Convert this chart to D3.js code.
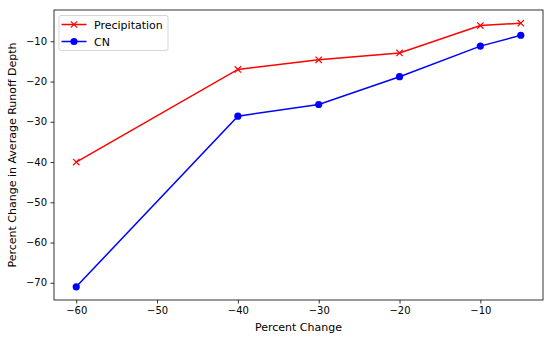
<!DOCTYPE html>
<html>
<head>
<meta charset="utf-8">
<script src="https://cdn.jsdelivr.net/npm/d3@7"></script>
<style>
  body { margin: 0; background: #fff; }
  text { font-family: "DejaVu Sans", sans-serif; }
</style>
</head>
<body>
<div id="chart"></div>
<script>
// data
const percentChange = [-60, -40, -30, -20, -10, -5];
const precipitation = [-40.0, -17.0, -14.6, -12.9, -6.1, -5.5];
const cn = [-71.0, -28.6, -25.7, -18.8, -11.2, -8.5];
const xTicks = [-60, -50, -40, -30, -20, -10];
const yTicks = [-70, -60, -50, -40, -30, -20, -10];

const width = 550;
const height = 340;
const margin = { top: 10, right: 7, bottom: 40, left: 54 };

const svg = d3
  .select("#chart")
  .append("svg")
  .attr("width", width)
  .attr("height", height);

// matplotlib style 5% padding
const xPad = (d3.max(percentChange) - d3.min(percentChange)) * 0.05;
const allY = precipitation.concat(cn);
const yPad = (d3.max(allY) - d3.min(allY)) * 0.05;

const x = d3
  .scaleLinear()
  .domain([d3.min(percentChange) - xPad, d3.max(percentChange) + xPad])
  .range([margin.left, width - margin.right]);

const y = d3
  .scaleLinear()
  .domain([d3.min(allY) - yPad, d3.max(allY) + yPad])
  .range([height - margin.bottom, margin.top]);

const fmt = (d) => String(d).replace("-", "\u2212");

// axes
const xAxis = svg
  .append("g")
  .attr("transform", `translate(0,${height - margin.bottom})`)
  .call(d3.axisBottom(x).tickValues(xTicks).tickFormat(fmt).tickSizeOuter(0).tickSize(3.5).tickPadding(3.5));

const yAxis = svg
  .append("g")
  .attr("transform", `translate(${margin.left},0)`)
  .call(d3.axisLeft(y).tickValues(yTicks).tickFormat(fmt).tickSizeOuter(0).tickSize(3.5).tickPadding(3.5));

[xAxis, yAxis].forEach((g) => {
  g.select(".domain").remove();
  g.selectAll("text").attr("font-size", 10).attr("fill", "#000").style("font-family", "DejaVu Sans");
  g.selectAll("line").attr("stroke", "#000").attr("stroke-width", 0.8);
});

// frame
svg
  .append("rect")
  .attr("x", margin.left)
  .attr("y", margin.top)
  .attr("width", width - margin.left - margin.right)
  .attr("height", height - margin.top - margin.bottom)
  .attr("fill", "none")
  .attr("stroke", "#000")
  .attr("stroke-width", 0.8);

// axis labels
svg
  .append("text")
  .attr("x", (margin.left + width - margin.right) / 2)
  .attr("y", 331)
  .attr("text-anchor", "middle")
  .attr("font-size", 11)
  .text("Percent Change");

svg
  .append("text")
  .attr("transform", `translate(15.5,${(margin.top + height - margin.bottom) / 2}) rotate(-90)`)
  .attr("text-anchor", "middle")
  .attr("font-size", 11)
  .text("Percent Change in Average Runoff Depth");

const line = d3
  .line()
  .x((d, i) => x(percentChange[i]))
  .y((d) => y(d));

// precipitation
svg
  .append("path")
  .datum(precipitation)
  .attr("fill", "none")
  .attr("stroke", "red")
  .attr("stroke-width", 1.5)
  .attr("d", line);

const cross = (g, cx, cy, s, color) => {
  g.append("path")
    .attr("d", `M${cx - s},${cy - s}L${cx + s},${cy + s}M${cx - s},${cy + s}L${cx + s},${cy - s}`)
    .attr("stroke", color)
    .attr("stroke-width", 1.2)
    .attr("fill", "none");
};

const crossG = svg.append("g");
precipitation.forEach((d, i) => cross(crossG, x(percentChange[i]), y(d), 3.2, "red"));

// CN
svg
  .append("path")
  .datum(cn)
  .attr("fill", "none")
  .attr("stroke", "blue")
  .attr("stroke-width", 1.5)
  .attr("d", line);

svg
  .append("g")
  .selectAll("circle")
  .data(cn)
  .join("circle")
  .attr("cx", (d, i) => x(percentChange[i]))
  .attr("cy", (d) => y(d))
  .attr("r", 3.6)
  .attr("fill", "blue");

// legend
const legend = svg.append("g").attr("transform", "translate(59,15.5)");
legend
  .append("rect")
  .attr("width", 109)
  .attr("height", 35)
  .attr("rx", 2)
  .attr("fill", "#fff")
  .attr("fill-opacity", 0.8)
  .attr("stroke", "#ccc")
  .attr("stroke-width", 0.8);

const legendItems = [
  { name: "Precipitation", color: "red", marker: "x" },
  { name: "CN", color: "blue", marker: "o" },
];

legendItems.forEach((item, i) => {
  const ly = 9 + i * 17;
  legend
    .append("line")
    .attr("x1", 2.5)
    .attr("x2", 27.5)
    .attr("y1", ly)
    .attr("y2", ly)
    .attr("stroke", item.color)
    .attr("stroke-width", 1.5);
  if (item.marker === "x") {
    cross(legend, 15, ly, 3.2, item.color);
  } else {
    legend.append("circle").attr("cx", 15).attr("cy", ly).attr("r", 3.6).attr("fill", item.color);
  }
  legend
    .append("text")
    .attr("x", 35)
    .attr("y", ly + 4)
    .attr("font-size", 11)
    .text(item.name);
});
</script>
</body>
</html>
